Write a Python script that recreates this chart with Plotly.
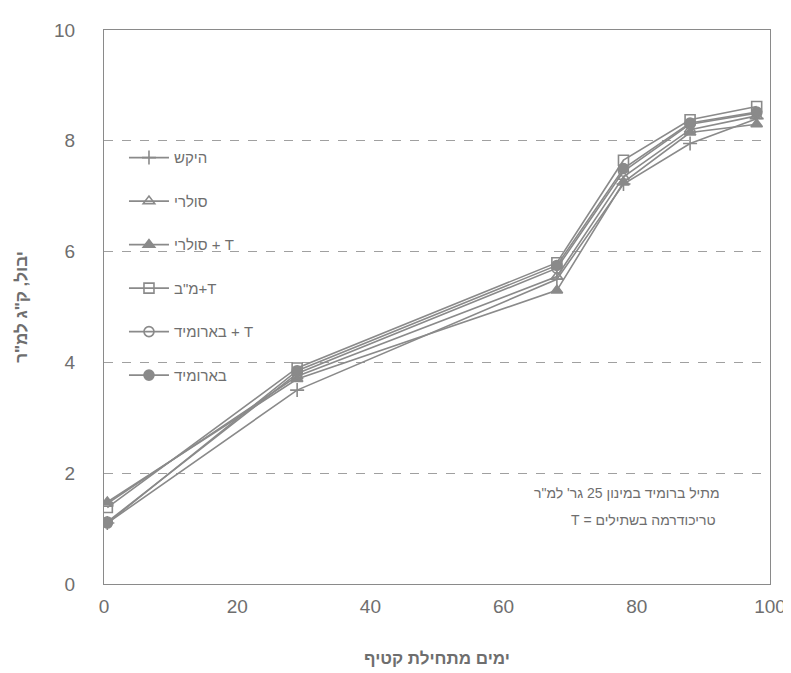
import plotly.graph_objects as go

RLE, PDF = "\u202B", "\u202C"

days = [0.5, 29, 68, 78, 88, 98]

series_names = ["היקש", "סולרי", "T + סולרי", 'T+מ"ב', "T + בארומיד", "בארומיד"]
hekesh = [1.10, 3.50, 5.50, 7.22, 7.95, 8.40]
solari = [1.45, 3.75, 5.55, 7.35, 8.20, 8.45]
solari_t = [1.48, 3.70, 5.30, 7.25, 8.15, 8.30]
mb_t = [1.38, 3.90, 5.80, 7.65, 8.38, 8.62]
baromid_t = [1.12, 3.80, 5.70, 7.45, 8.30, 8.50]
baromid = [1.10, 3.85, 5.75, 7.50, 8.32, 8.52]

x_ticks = [0, 20, 40, 60, 80, 100]
y_ticks = [0, 2, 4, 6, 8, 10]

note_lines = ["מתיל ברומיד במינון 25 גר' למ\"ר", "טריכודרמה בשתילים = T"]
x_title = "ימים מתחילת קטיף"
y_title = 'יבול, ק"ג למ"ר'


def rtl(s):
    return RLE + s + PDF


values = [hekesh, solari, solari_t, mb_t, baromid_t, baromid]
symbols = ["cross-thin", "triangle-up-open", "triangle-up", "square-open", "circle-open", "circle"]

GRAY = "#8a8a8a"
TXT = "#6e6e6e"
FONT = "Liberation Sans, Arial"

fig = go.Figure()
for i, (name, vals, sym) in enumerate(zip(series_names, values, symbols)):
    fig.add_trace(go.Scatter(
        x=days, y=vals, name=rtl(name), mode="lines+markers",
        legendgroup=f"g{i}",
        line=dict(color=GRAY, width=1.6),
        marker=dict(symbol=sym, size=10, color=GRAY,
                    line=dict(color=GRAY, width=1.6)),
    ))

for txt, yy, xx in zip(note_lines, [0.164, 0.1155], [0.928, 0.922]):
    fig.add_annotation(
        x=xx, y=yy, xref="paper", yref="paper", xanchor="right", yanchor="middle",
        text=rtl(txt), showarrow=False,
        font=dict(family=FONT, size=14, color=TXT),
    )

fig.update_layout(
    width=791, height=673,
    paper_bgcolor="white", plot_bgcolor="white",
    margin=dict(l=92, r=29, t=22, b=97),
    showlegend=True,
    legend=dict(
        x=0.03, y=0.799, xanchor="left", yanchor="top",
        bgcolor="rgba(255,255,255,0)",
        font=dict(family=FONT, size=15, color=TXT),
        traceorder="grouped", tracegroupgap=21,
        itemwidth=40,
    ),
    xaxis=dict(
        range=[0, 100], tickvals=x_ticks, showgrid=False, zeroline=False,
        showline=True, linecolor=GRAY, linewidth=1, mirror=True,
        ticks="outside", ticklen=5, tickcolor="rgba(0,0,0,0)",
        tickfont=dict(family=FONT, size=19, color=TXT),
        title=dict(text="<b>" + rtl(x_title) + "</b>", standoff=36,
                   font=dict(family=FONT, size=17, color=TXT)),
    ),
    yaxis=dict(
        range=[0, 10], tickvals=y_ticks, showgrid=True, gridcolor="#a0a0a0",
        griddash="dash", gridwidth=1, zeroline=False,
        showline=True, linecolor=GRAY, linewidth=1, mirror=True,
        ticks="outside", ticklen=24, tickcolor="rgba(0,0,0,0)",
        tickfont=dict(family=FONT, size=19, color=TXT),
        title=dict(text="<b>" + rtl(y_title) + "</b>", standoff=22,
                   font=dict(family=FONT, size=17, color=TXT)),
    ),
)

fig.write_html("out.html")
